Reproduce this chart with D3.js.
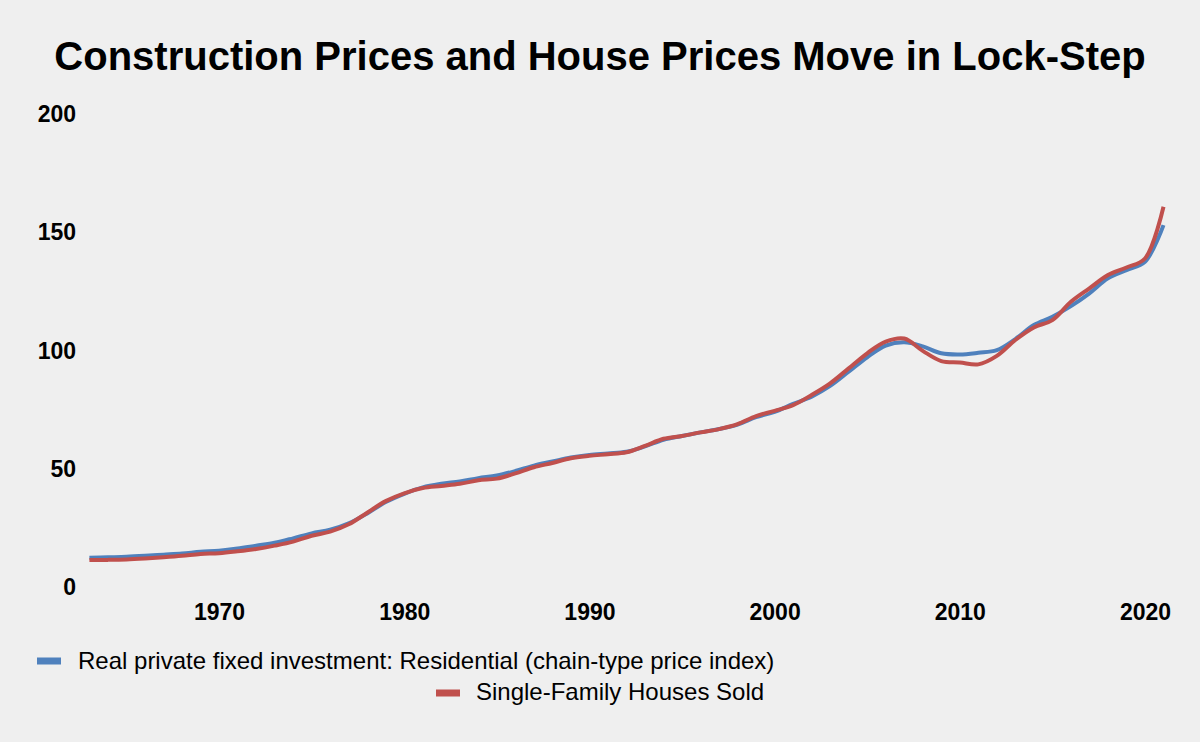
<!DOCTYPE html>
<html><head><meta charset="utf-8">
<script src="https://cdn.jsdelivr.net/npm/d3@7"></script>
<style>
html,body{margin:0;padding:0;background:#efefef;}
svg{display:block;font-family:"Liberation Sans",Arial,Helvetica,sans-serif;}
</style></head>
<body><svg id="chart" width="1200" height="742"></svg>
<script>
const years = d3.range(1963, 2022);
const residentialIndex = [
12.6,12.8,13.0,13.4,13.9,14.4,15.1,15.6,16.5,17.7,
18.9,20.8,22.9,24.4,27.1,31.3,36.1,39.6,42.3,43.8,
44.8,46.2,47.3,49.2,51.5,53.2,54.9,56.0,56.6,57.3,
59.6,62.4,64.0,65.5,66.9,68.8,71.9,74.2,77.5,80.6,
85.1,91.1,97.2,102.1,103.5,101.8,98.9,98.4,99.1,100.2,
104.9,110.8,114.3,118.8,124.2,130.5,134.0,137.5,153.0];
const housesSold = [
11.6,11.7,11.9,12.3,12.8,13.4,14.2,14.5,15.3,16.3,
17.7,19.4,21.9,23.6,26.7,31.6,36.5,39.8,42.0,42.9,
43.8,45.3,46.0,48.2,50.8,52.6,54.6,55.6,56.3,57.1,
59.8,62.8,64.0,65.5,66.9,69.0,72.4,74.6,77.0,81.3,
86.2,92.5,98.9,103.8,105.1,99.9,95.6,95.0,94.2,97.8,
104.5,109.8,112.9,120.6,126.3,131.9,135.1,138.9,160.7];
const yTicks = [0, 50, 100, 150, 200];
const xTicks = [1970, 1980, 1990, 2000, 2010, 2020];
const seriesNames = ["Real private fixed investment: Residential (chain-type price index)", "Single-Family Houses Sold"];
const seriesColors = ["#4f81bd", "#c0504d"];
const titleText = "Construction Prices and House Prices Move in Lock-Step";

const svg = d3.select("#chart");
svg.append("rect").attr("width",1200).attr("height",742).attr("fill","#efefef");

const x = d3.scaleLinear().domain([1963, 2021]).range([89.4, 1163.5]);
const y = d3.scaleLinear().domain([0, 200]).range([587.6, 113.7]);

svg.append("text").attr("x",600).attr("y",70).attr("text-anchor","middle")
  .attr("font-size",40).attr("font-weight","bold").attr("fill","#000").text(titleText);

const yAxis = svg.append("g").attr("transform","translate(76,0)")
  .call(d3.axisLeft(y).tickValues(yTicks).tickSize(0).tickPadding(0).tickFormat(d3.format("d")));
yAxis.select(".domain").remove();
yAxis.selectAll("text").attr("font-size",23).attr("font-weight","bold").attr("fill","#000")
  .attr("font-family","'Liberation Sans',Arial,sans-serif");

const xAxis = svg.append("g").attr("transform","translate(0,603.7)")
  .call(d3.axisBottom(x).tickValues(xTicks).tickSize(0).tickPadding(0).tickFormat(d3.format("d")));
xAxis.select(".domain").remove();
xAxis.selectAll("text").attr("font-size",23).attr("font-weight","bold").attr("fill","#000")
  .attr("font-family","'Liberation Sans',Arial,sans-serif");

const line = d3.line().x(d => x(d[0])).y(d => y(d[1])).curve(d3.curveCatmullRom.alpha(0.5));
[residentialIndex, housesSold].forEach((vals, i) => {
  svg.append("path").datum(years.map((yr, j) => [yr, vals[j]]))
    .attr("d", line).attr("fill","none").attr("stroke", seriesColors[i])
    .attr("stroke-width",4).attr("stroke-linejoin","round").attr("stroke-linecap","butt");
});

const legendPos = [{sx:37, tx:78, cy:661, base:669.3}, {sx:436, tx:476, cy:693, base:700.3}];
seriesNames.forEach((name, i) => {
  const p = legendPos[i];
  svg.append("rect").attr("x",p.sx).attr("y",p.cy-3.5).attr("width",24).attr("height",7).attr("fill",seriesColors[i]);
  svg.append("text").attr("x",p.tx).attr("y",p.base).attr("font-size",24)
    .attr("fill","#000").text(name);
});
</script></body></html>
